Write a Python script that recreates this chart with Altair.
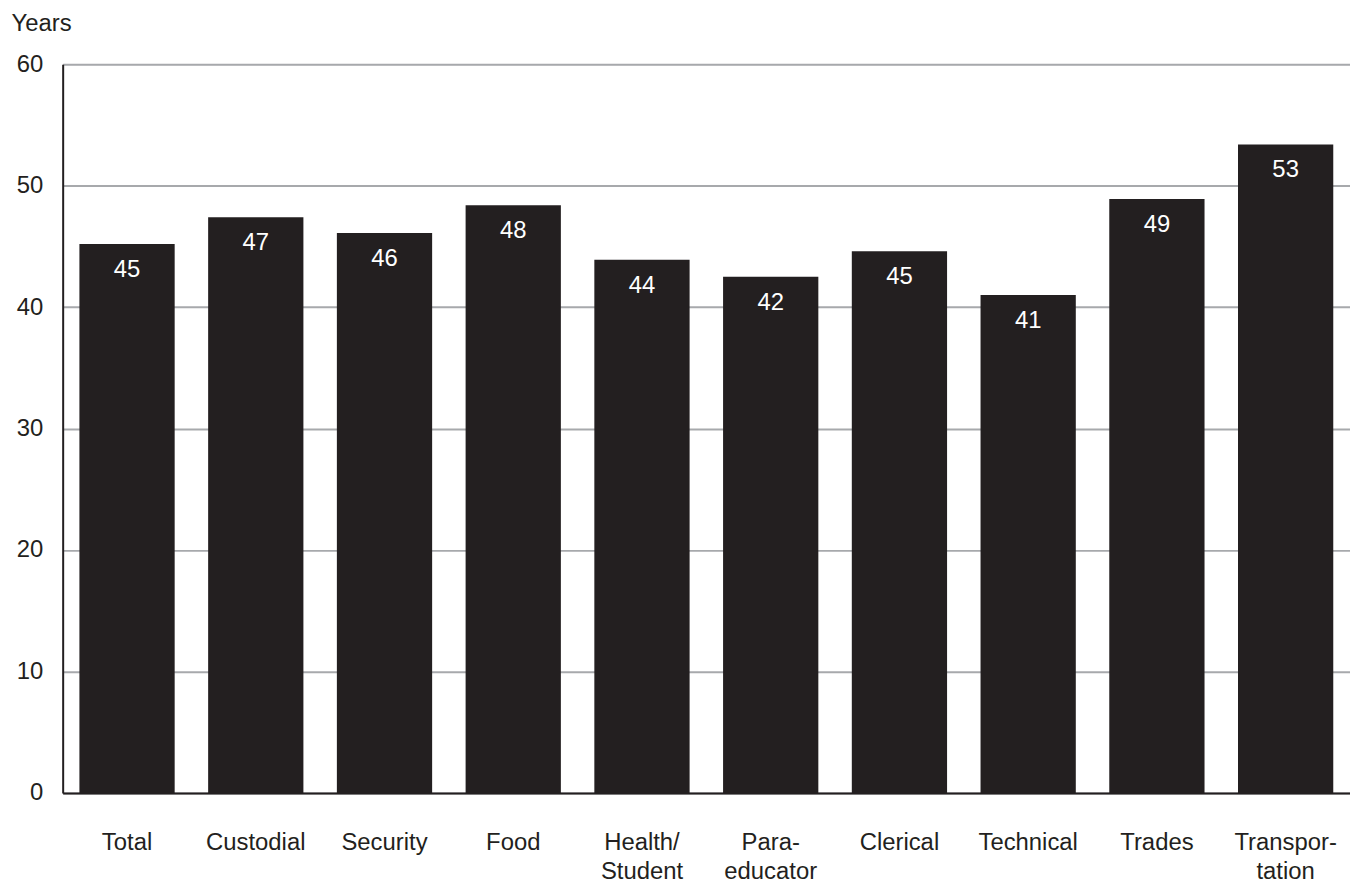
import altair as alt
import pandas as pd

categories = ["Total", "Custodial", "Security", "Food", "Health/\nStudent",
              "Para-\neducator", "Clerical", "Technical", "Trades", "Transpor-\ntation"]
values = [45.2, 47.4, 46.1, 48.4, 43.9, 42.5, 44.6, 41.0, 48.9, 53.4]
labels = ["45", "47", "46", "48", "44", "42", "45", "41", "49", "53"]

df = pd.DataFrame({"cat": categories, "val": values, "lab": labels})

FONT = "Liberation Sans"
FS = 24

x = alt.X("cat:N", sort=categories,
          scale=alt.Scale(paddingInner=0.26, paddingOuter=0.13),
          axis=alt.Axis(title=None, labelAngle=0, labelFontSize=FS, labelFont=FONT,
                        labelColor="#231f20", ticks=False, labelPadding=38,
                        labelExpr="split(datum.label, '\\n')", labelLineHeight=29,
                        domainColor="#231f20", domainWidth=2, labelBaseline="top"))
y = alt.Y("val:Q", scale=alt.Scale(domain=[0, 60], nice=False),
          axis=alt.Axis(values=[0, 10, 20, 30, 40, 50, 60], title="Years", titleAngle=0,
                        titleX=-52, titleY=-41, titleAlign="left", titleBaseline="middle",
                        titleFontSize=FS, titleFont=FONT, titleFontWeight="normal",
                        titleColor="#231f20",
                        labelFontSize=FS, labelFont=FONT, labelColor="#231f20",
                        ticks=False, labelPadding=20, gridColor="#a7a9ac", gridWidth=2,
                        domainColor="#231f20", domainWidth=2))

bars = alt.Chart(df).mark_bar(color="#231f20").encode(x=x, y=y)
text = alt.Chart(df).mark_text(color="white", fontSize=FS, font=FONT, baseline="middle", dy=26).encode(
    x=alt.X("cat:N", sort=categories), y="val:Q", text="lab:N")

chart = (bars + text).properties(
    width=1295, height=733,
    padding={"left": 55, "top": 54, "right": 0, "bottom": 88},
    autosize=alt.AutoSizeParams(type="none"),
).configure_view(stroke=None).configure(background="white")

chart.save("out.html", embed_options={"renderer": "svg", "actions": False})
